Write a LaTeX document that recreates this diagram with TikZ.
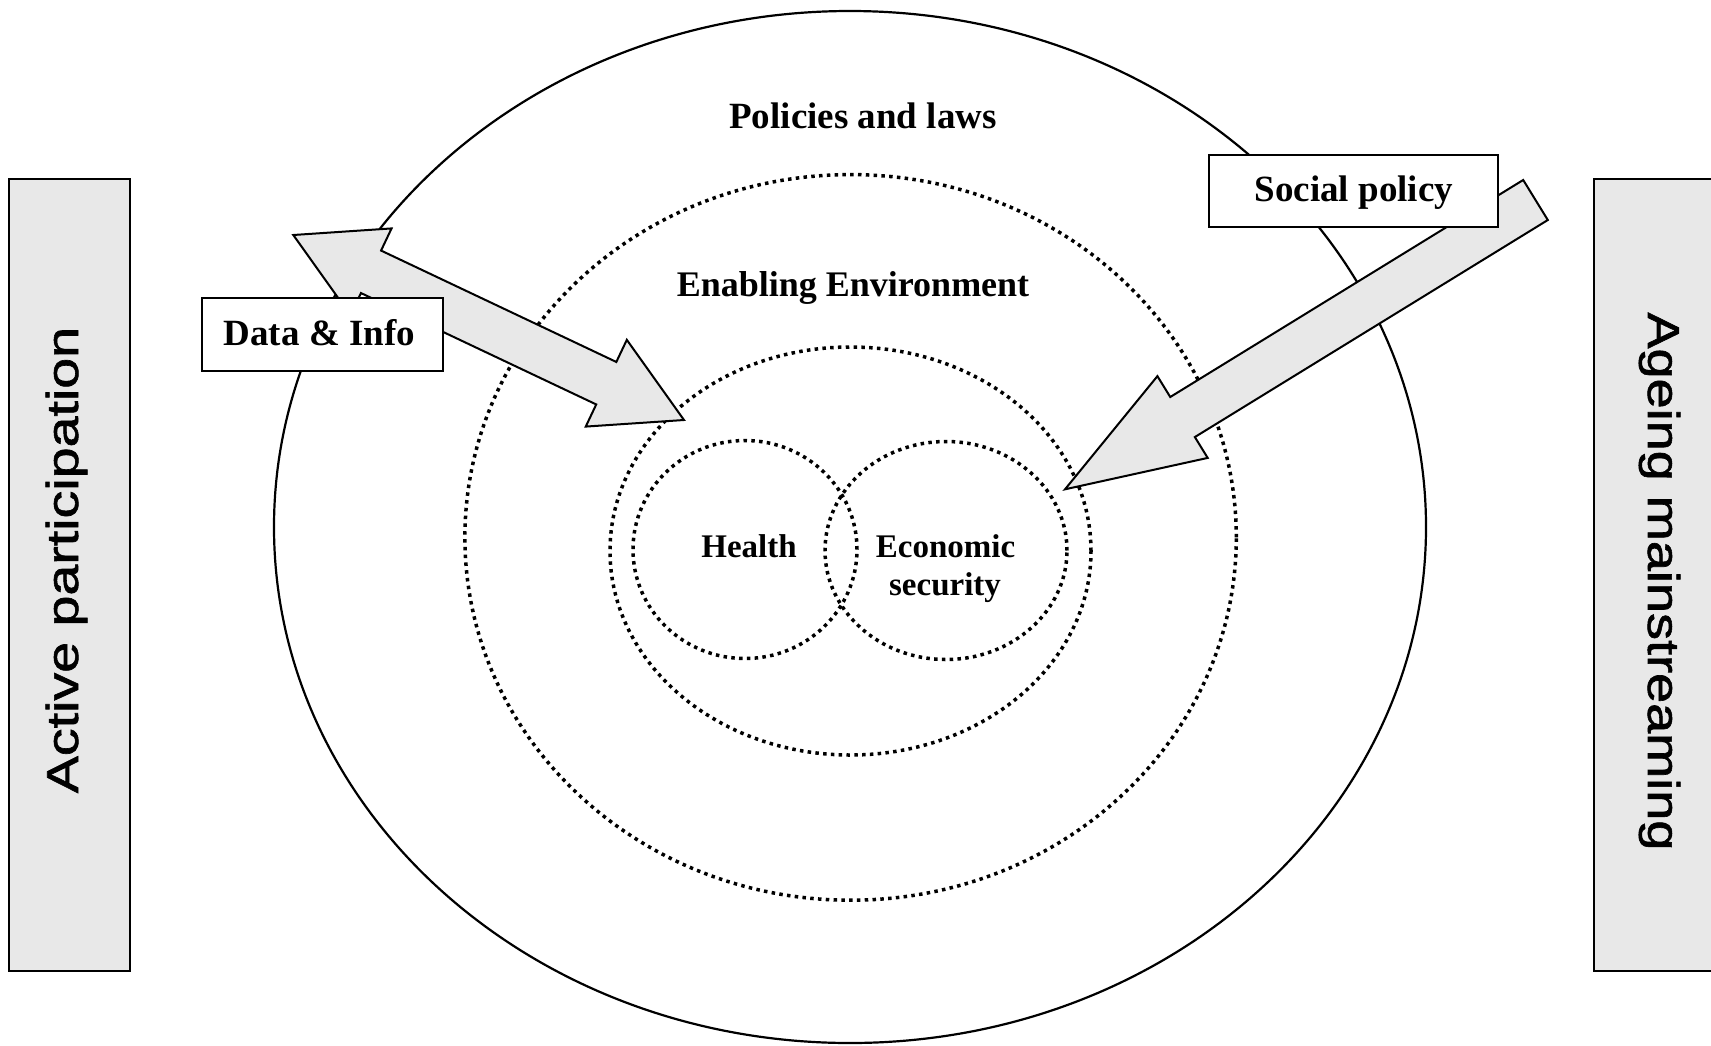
\documentclass[tikz,border=0pt]{standalone}
\usepackage{fontspec}
\setmainfont{Liberation Serif}
\newfontfamily\sidefont[FakeBold=1.2]{Liberation Sans}
\usetikzlibrary{calc}
\definecolor{panelgray}{HTML}{E8E8E8}
\begin{document}
\begin{tikzpicture}[x=1pt,y=-1pt,
  dotring/.style={line width=3.5pt, dash pattern=on 3.5pt off 4.3pt},
  solidring/.style={line width=2.2pt},
  sidebox/.style={draw, line width=2.2pt, fill=panelgray},
  labelbox/.style={draw, line width=2.3pt, fill=white, inner sep=0pt, anchor=base, font=\bfseries\fontsize{37}{40}\selectfont},
  blockarrow/.style={draw, line width=2pt, fill=panelgray, line join=miter},
  titletext/.style={inner sep=0pt, anchor=base, font=\bfseries\fontsize{37}{40}\selectfont},
  innertext/.style={inner sep=0pt, anchor=base, font=\bfseries\fontsize{33}{36}\selectfont},
  sidetext/.style={inner sep=0pt, anchor=base, font=\sidefont\fontsize{44.7}{48}\selectfont}
]
\useasboundingbox (0,0) rectangle (1711,1045);
\fill[white] (0,0) rectangle (1711,1045);

% side panels
\draw[sidebox] (9,179) rectangle (130,971);
\draw[sidebox] (1594,179) rectangle (1716,971);
\node[sidetext, rotate=90] (active) at (78,560) {\scalebox{1.243}[1]{Active participation}};
\node[sidetext, rotate=-90] (ageing) at (1648,581.5) {\scalebox{1.21}[1]{Ageing mainstreaming}};

% rings
\draw[solidring] (850,527) ellipse [x radius=576pt, y radius=516pt];
\draw[dotring] (850.6,537.4) ellipse [x radius=385.7pt, y radius=362.8pt];
\draw[dotring] (850.5,551) ellipse [x radius=240.5pt, y radius=204pt];
\draw[dotring] (745,549.5) ellipse [x radius=112pt, y radius=109pt];
\draw[dotring] (946,550.5) ellipse [x radius=121pt, y radius=109pt];

% ring labels
\node[titletext] (policies) at (863,128) {Policies and laws};
\node[titletext, font=\bfseries\fontsize{36}{40}\selectfont] (enabling) at (853,296) {Enabling Environment};
\node[innertext] (health) at (749,557) {Health};
\node[innertext] (econ) at (945.5,557) {Economic};
\node[innertext] (security) at (945,595) {security};

% double arrow (Data & Info)
\coordinate (dL) at (293.3,235);
\coordinate (dR) at (684,420);
\coordinate (dLb) at ($(dL)!86pt!(dR)$);
\coordinate (dRb) at ($(dR)!86pt!(dL)$);
\draw[blockarrow] (dL)
  -- ($(dLb)!48pt!90:(dR)$) -- ($(dLb)!23.5pt!90:(dR)$)
  -- ($(dRb)!23.5pt!90:(dR)$) -- ($(dRb)!48pt!90:(dR)$)
  -- (dR)
  -- ($(dRb)!48pt!-90:(dR)$) -- ($(dRb)!23.5pt!-90:(dR)$)
  -- ($(dLb)!23.5pt!-90:(dR)$) -- ($(dLb)!48pt!-90:(dR)$)
  -- cycle;

% single arrow (Social policy)
\coordinate (sS) at (1535.5,200);
\coordinate (sT) at (1065,489.3);
\coordinate (sB) at ($(sT)!138pt!(sS)$);
\draw[blockarrow] ($(sS)!23.5pt!90:(sT)$)
  -- ($(sB)!23.5pt!90:(sT)$) -- ($(sB)!48pt!90:(sT)$)
  -- (sT)
  -- ($(sB)!48pt!-90:(sT)$) -- ($(sB)!23.5pt!-90:(sT)$)
  -- ($(sS)!23.5pt!-90:(sT)$)
  -- cycle;

% label boxes
\node[labelbox, text height=46.7pt, text depth=25.7pt, minimum width=241.3pt] (data) at (322.3,345) {Data \& Info\hspace*{6pt}};
\node[labelbox, text height=46pt, text depth=26.3pt, minimum width=289pt] (social) at (1353.8,201) {Social policy};
\end{tikzpicture}
\end{document}
